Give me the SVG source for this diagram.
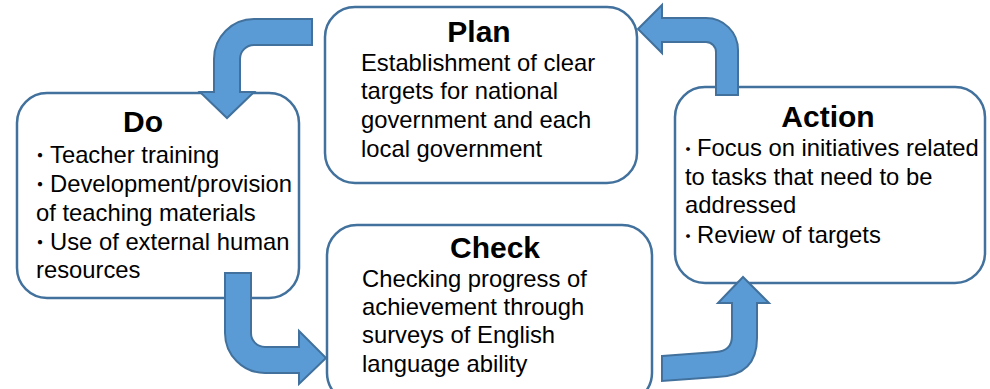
<svg xmlns="http://www.w3.org/2000/svg" width="990" height="389" viewBox="0 0 990 389">
<style>
.box{fill:#fff;stroke:#41719C;stroke-width:2.5}
.arr{fill:#5B9BD5;stroke:#41719C;stroke-width:2;stroke-linejoin:miter}
.t{font-family:"Liberation Sans",Arial,sans-serif;font-weight:bold;font-size:30px;fill:#000;text-anchor:middle}
.b{font-family:"Liberation Sans",Arial,"Noto Sans CJK JP",sans-serif;font-size:23.8px;fill:#000}
.d{font-family:"Noto Sans CJK JP",sans-serif;font-size:20px}
.ds{font-family:"Noto Sans CJK JP",sans-serif;font-size:18px}
</style>
<rect width="990" height="389" fill="#fff"/>
<g id="plan">
<rect class="box" x="325" y="7" width="312" height="176" rx="30"/>
<text class="t" x="479" y="42">Plan</text>
<text class="b" x="361" y="71">Establishment of clear</text>
<text class="b" x="361" y="99">targets for national</text>
<text class="b" x="361" y="128">government and each</text>
<text class="b" x="361" y="157">local government</text>
</g>
<g id="do">
<rect class="box" x="17" y="93" width="282" height="205" rx="30"/>
<text class="t" x="143" y="132">Do</text>
<text class="b" x="30" y="163"><tspan class="d">・</tspan>Teacher training</text>
<text class="b" x="30" y="192"><tspan class="d">・</tspan>Development/provision</text>
<text class="b" x="36" y="221">of teaching materials</text>
<text class="b" x="30" y="250"><tspan class="d">・</tspan>Use of external human</text>
<text class="b" x="36" y="278">resources</text>
</g>
<g id="check">
<rect class="box" x="327" y="225" width="325" height="178" rx="30"/>
<text class="t" x="495" y="258">Check</text>
<text class="b" x="362" y="287">Checking progress of</text>
<text class="b" x="362" y="315">achievement through</text>
<text class="b" x="362" y="343">surveys of English</text>
<text class="b" x="362" y="372">language ability</text>
</g>
<g id="action">
<rect class="box" x="675" y="87" width="310" height="196" rx="30"/>
<text class="t" x="828" y="127">Action</text>
<text class="b" x="679" y="156"><tspan class="ds">・</tspan>Focus on initiatives related</text>
<text class="b" x="685" y="185">to tasks that need to be</text>
<text class="b" x="685" y="213">addressed</text>
<text class="b" x="679" y="243"><tspan class="ds">・</tspan>Review of targets</text>
</g>
<g id="connectors">
<path class="arr" d="M312,19 L254,19 A40,40 0 0 0 214,59 L214,92 L200,92 L227,118 L254,92 L240,92 L240,59 A14,14 0 0 1 254,45 L312,45 Z"/>
<path class="arr" d="M638,29 L662,5 L662,18 L706,18 A32,32 0 0 1 738,50 L738,95 L716,95 L716,52 A10,10 0 0 0 706,42 L662,42 L662,53 Z"/>
<path class="arr" d="M225,273 L251,273 L251,333 A14,14 0 0 0 265,347 L299,347 L299,331 L326,358 L299,384 L299,373 L265,373 A40,40 0 0 1 225,333 Z"/>
<path class="arr" d="M662,356 L716,352 Q732,351 732,336 L732,303 L718,303 L743,277 L769,303 L757,303 L757,338 Q757,376 717,377 L662,381 Z"/>
</g>
</svg>
